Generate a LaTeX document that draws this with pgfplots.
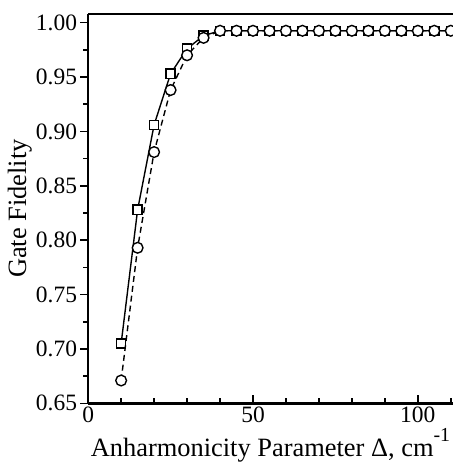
\documentclass[border=0pt]{standalone}
\usepackage{fontspec}
\setmainfont{Liberation Serif}
\usepackage{pgfplots}
\pgfplotsset{compat=1.18}

\begin{document}
\fontsize{11.8}{13}\selectfont
\begin{tikzpicture}
\begin{axis}[
    scale only axis,
    width=183.5pt, height=196pt,
    xmin=0, xmax=110.6,
    ymin=0.65, ymax=1.008,
    axis x line*=bottom,
    axis y line*=left,
    axis line style={line width=1.2pt},
    xtick={0,50,100},
    minor xtick={10,20,30,40,60,70,80,90,110},
    ytick={0.65,0.70,...,1.001},
    minor ytick={0.675,0.725,...,1.0},
    xtick align=inside,
    ytick align=outside,
    major tick length=4pt,
    minor tick length=2.5pt,
    every tick/.style={black, line width=0.8pt},
    /pgf/number format/assume math mode=true,
    yticklabel style={xshift=2.5pt, /pgf/number format/.cd, fixed, fixed zerofill, precision=2},
    xticklabel style={yshift=2.5pt},
    xlabel={Anharmonicity Parameter Δ, cm\raisebox{1.2ex}{\fontsize{10}{10}\selectfont -1}},
    ylabel={Gate Fidelity},
    label style={font=\fontsize{13.3}{15}\selectfont},
    ylabel style={yshift=-6pt},
    xlabel style={inner sep=0pt, yshift=1pt},
    clip marker paths=true,
    after end axis/.code={
        \draw[line width=1.2pt] (rel axis cs:0,1) -- (rel axis cs:1,1);
        \path (rel axis cs:0,1) ++(0,7pt);
    },
]
\addplot[black, line width=0.7pt, mark=square*, mark size=2.3pt,
    mark options={solid, fill=white, draw=black, line width=0.7pt}]
    coordinates {(10,0.705)(15,0.828)(20,0.906)(25,0.953)(30,0.976)(35,0.988)
    (40,0.9925)(45,0.9925)(50,0.9925)(55,0.9925)(60,0.9925)(65,0.9925)(70,0.9925)
    (75,0.9925)(80,0.9925)(85,0.9925)(90,0.9925)(95,0.9925)(100,0.9925)(105,0.9925)(110,0.9925)};
\addplot[black, line width=0.7pt, densely dashed, mark=*, mark size=2.7pt,
    mark options={solid, fill=white, draw=black, line width=0.7pt}]
    coordinates {(10,0.671)(15,0.793)(20,0.881)(25,0.938)(30,0.970)(35,0.986)
    (40,0.9925)(45,0.9925)(50,0.9925)(55,0.9925)(60,0.9925)(65,0.9925)(70,0.9925)
    (75,0.9925)(80,0.9925)(85,0.9925)(90,0.9925)(95,0.9925)(100,0.9925)(105,0.9925)(110,0.9925)};
\end{axis}
\end{tikzpicture}
\end{document}
